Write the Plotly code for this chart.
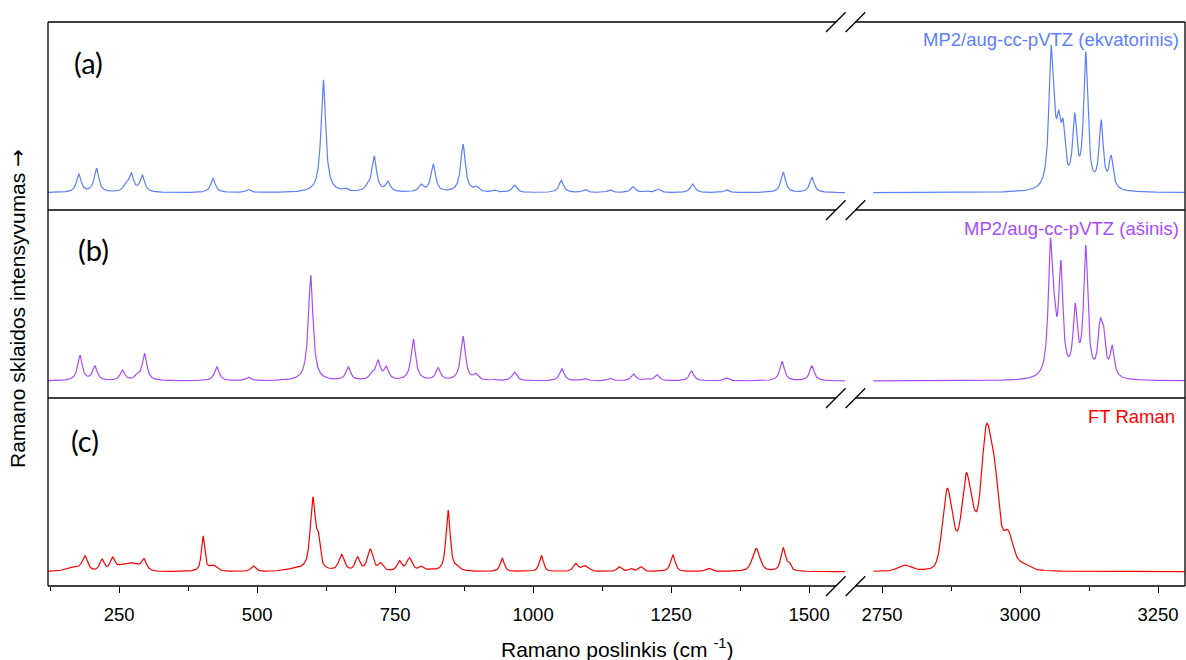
import numpy as np
import plotly.graph_objects as go
from plotly.subplots import make_subplots

# ---------------- data ----------------
# peak positions (cm-1) and peak heights (relative intensity, a.u.)
pos_a = [177, 209, 262, 272, 292, 420, 484, 620, 660, 700, 712, 737, 797, 819,
         873, 897, 930, 966, 1051, 1094, 1139, 1181, 1205, 1226, 1289, 1350,
         1453, 1505,
         3056, 3062, 3070, 3078, 3099, 3119, 3147, 3165]
int_a = [18.7, 24.7, 11, 20, 17.7, 14.3, 3.3, 113, 4.7, 10, 37, 11.7, 8.7, 28.7,
         48.7, 6.7, 2.7, 7.7, 12.3, 3.3, 3, 6, 2, 3.7, 8.7, 3,
         20.7, 15.3,
         147.7, 94, 83, 74, 80, 141, 73, 37.7]

pos_b = [179, 206, 256, 283, 296, 427, 484, 597, 665, 708, 719, 734, 783, 828,
         873, 896, 930, 966, 1052, 1094, 1139, 1182, 1205, 1224, 1287, 1350,
         1451, 1505,
         3055, 3062, 3074, 3100, 3119, 3145, 3151, 3167]
int_b = [26, 15.3, 11, 8, 27.7, 14.3, 4, 106, 14.3, 10, 21, 15, 42, 13.3,
         45, 7.7, 1.7, 9, 12.3, 2.7, 2.7, 7, 2.7, 6.3, 10, 3,
         19.7, 15.3,
         142.7, 86.7, 121, 78, 136, 62.7, 57, 36]

pos_c = [165, 188, 219, 238, 268, 295, 402, 420, 493, 570, 601, 611, 653, 682,
         705, 724, 758, 776, 797, 814, 846, 862, 944, 1015, 1077, 1094, 1156,
         1177, 1195, 1253, 1318, 1404, 1453, 1464,
         2791, 2868, 2885, 2902, 2915, 2939, 2955, 2978, 3005]
int_c = [5, 16, 12.7, 14.7, 9, 13.3, 36, 7, 5.7, 4, 75, 40, 17.3, 15,
         22.7, 9, 11, 14, 5.7, 3.5, 61.7, 7, 13.3, 16, 8.3, 6, 5,
         3.3, 5, 16.7, 3.3, 23.3, 24.3, 10,
         6.7, 83.3, 40.7, 98.3, 67, 147.3, 108, 42, 9]
hw_c = [15, 6, 5, 5, 22, 5, 3.5, 8, 5, 22, 5.5, 4, 6, 5,
        6, 5, 5, 6, 5, 5, 4.5, 6, 4.5, 4.5, 5, 8, 5,
        5, 5, 5, 6, 8, 5, 4,
        14, 10, 10, 9, 10, 11, 9, 11, 14]
eta_c = [0.3, 0.7, 0.7, 0.7, 0.0, 0.7, 0.8, 0.5, 0.7, 0.0, 0.8, 0.6, 0.7, 0.7,
         0.7, 0.6, 0.7, 0.7, 0.7, 0.7, 0.8, 0.6, 0.7, 0.7, 0.7, 0.5, 0.7,
         0.7, 0.7, 0.7, 0.7, 0.6, 0.7, 0.6,
         0.3, 0.25, 0.25, 0.25, 0.25, 0.25, 0.25, 0.3, 0.3]

hw_calc_low = 5.0      # HWHM of computed bands below 2000 cm-1
hw_calc_high = 4.5     # HWHM of computed bands in the CH region

labels = ["MP2/aug-cc-pVTZ (ekvatorinis)", "MP2/aug-cc-pVTZ (ašinis)", "FT Raman"]
panel_tags = ["(a)", "(b)", "(c)"]
colors = ["#5B7FFF", "#A64DFF", "#FF0000"]

tick_low = [250, 500, 750, 1000, 1250, 1500]
tick_high = [2750, 3000, 3250]
range_low = [121.2, 1565]
range_high = [2733.7, 3298.9]


# ---------------- build spectra from the peak tables ----------------
def profile(x, x0, w, eta):
    u = ((x - x0) / w) ** 2
    return eta / (1 + u) + (1 - eta) * np.exp(-np.log(2) * u)


def spectrum(pos, hts, widths, etas, grid):
    pos = np.asarray(pos, float)
    hts = np.asarray(hts, float)
    widths = np.asarray(widths, float)
    etas = np.asarray(etas, float)
    A = np.array([[profile(p, q, w, e) for q, w, e in zip(pos, widths, etas)] for p in pos])
    amp = hts.copy()
    num = A.T @ hts
    for _ in range(4000):
        amp *= num / (A.T @ (A @ amp) + 1e-12)
    y = np.zeros_like(grid)
    for q, w, e, a in zip(pos, widths, etas, amp):
        y += a * profile(grid, q, w, e)
    return y


def calc_widths(pos):
    return [hw_calc_low if p < 2000 else hw_calc_high for p in pos]


x_low = np.arange(range_low[0], range_low[1] + 0.01, 0.5)
x_high = np.arange(range_high[0] + 0.3, range_high[1], 0.5)
grid = np.concatenate([x_low, x_high])

spec_a = spectrum(pos_a, int_a, calc_widths(pos_a), [1.0] * len(pos_a), grid)
spec_b = spectrum(pos_b, int_b, calc_widths(pos_b), [1.0] * len(pos_b), grid)
spec_c = spectrum(pos_c, int_c, hw_c, eta_c, grid)
specs = [spec_a, spec_b, spec_c]
nlow = len(x_low)

# y ranges (baseline = 0)
yranges = [[-17.3, 170.7], [-17.0, 171.0], [-14.3, 173.7]]

# ---------------- figure ----------------
W, H = 1186, 660
ml, mr, mt, mb = 48, 1, 22, 74
pw, ph = W - ml - mr, H - mt - mb


def px(xpix):
    return (xpix - ml) / pw


def py(ypix):
    return (H - mb - ypix) / ph


fig = make_subplots(rows=3, cols=2, shared_xaxes=False, vertical_spacing=0,
                    horizontal_spacing=0.02)

dom_low = [0, px(845)]
dom_high = [px(873), 1]
ydoms = [[2 / 3, 1], [1 / 3, 2 / 3], [0, 1 / 3]]

for r in range(3):
    fig.add_trace(go.Scatter(x=x_low, y=specs[r][:nlow], mode="lines",
                             line=dict(color=colors[r], width=1.2), hoverinfo="skip"),
                  row=r + 1, col=1)
    fig.add_trace(go.Scatter(x=x_high, y=specs[r][nlow:], mode="lines",
                             line=dict(color=colors[r], width=1.2), hoverinfo="skip"),
                  row=r + 1, col=2)

tickfont = dict(family="Liberation Sans, Arial, sans-serif", size=18.5, color="black")
for r in range(3):
    for c in range(2):
        idx = r * 2 + c + 1
        xname = "xaxis" if idx == 1 else f"xaxis{idx}"
        yname = "yaxis" if idx == 1 else f"yaxis{idx}"
        bottom = (r == 2)
        xa = dict(domain=dom_low if c == 0 else dom_high,
                  range=range_low if c == 0 else range_high,
                  showgrid=False, zeroline=False, showline=False,
                  fixedrange=True)
        if bottom:
            xa.update(tickmode="array", tickvals=tick_low if c == 0 else tick_high,
                      ticks="outside", ticklen=6, tickwidth=1.2, tickcolor="black",
                      tickfont=tickfont, ticklabelstandoff=6,
                      minor=dict(dtick=125, tick0=0, ticks="outside", ticklen=3.5,
                                 tickwidth=1.2, tickcolor="black"))
        else:
            xa.update(showticklabels=False, ticks="")
        fig.layout[xname].update(xa)
        fig.layout[yname].update(domain=ydoms[r], range=yranges[r], visible=False,
                                 fixedrange=True)

shapes = []
line_style = dict(color="black", width=1.3)
# frame: horizontal lines with the axis-break gap
for ypix in [22, 210, 398, 586]:
    shapes.append(dict(type="line", xref="paper", yref="paper", x0=0, x1=px(836),
                       y0=py(ypix), y1=py(ypix), line=line_style))
    shapes.append(dict(type="line", xref="paper", yref="paper", x0=px(855.5), x1=1,
                       y0=py(ypix), y1=py(ypix), line=line_style))
    for xs in [826, 845.7]:
        shapes.append(dict(type="line", xref="paper", yref="paper",
                           x0=px(xs), y0=py(ypix + 10), x1=px(xs + 19.6), y1=py(ypix - 9.8),
                           line=dict(color="black", width=1.3)))
for xp in [0, 1]:
    shapes.append(dict(type="line", xref="paper", yref="paper", x0=xp, x1=xp,
                       y0=0, y1=1, line=line_style))
fig.update_layout(shapes=shapes)

ann = []
tag_pos = [(88, 63), (93, 249), (85, 440)]
for (xp_, yp_), t in zip(tag_pos, panel_tags):
    ann.append(dict(text=t, x=px(xp_), y=py(yp_), xref="paper", yref="paper",
                    xanchor="center", yanchor="middle", showarrow=False,
                    font=dict(family="Lato, Open Sans, sans-serif", size=29, color="black")))
lab_pos = [(1181, 40), (1181, 228.5), (1177, 416.5)]
for (xp_, yp_), t, col in zip(lab_pos, labels, colors):
    ann.append(dict(text=t, x=px(xp_), y=py(yp_), xref="paper", yref="paper",
                    xanchor="right", yanchor="middle", showarrow=False,
                    font=dict(family="Liberation Sans, Arial, sans-serif", size=18.5, color=col)))
ann.append(dict(text="Ramano poslinkis (cm <sup>-1</sup>)", x=px(617), y=py(648),
                xref="paper", yref="paper", xanchor="center", yanchor="middle",
                showarrow=False,
                font=dict(family="Liberation Sans, Arial, sans-serif", size=21, color="black")))
ann.append(dict(text="Ramano sklaidos intensyvumas <span style=\"font-family:'DejaVu Sans'\">→</span>",
                x=px(18), y=py(309),
                xref="paper", yref="paper", xanchor="center", yanchor="middle",
                textangle=-90, showarrow=False,
                font=dict(family="Liberation Sans, Arial, sans-serif", size=21, color="black")))
fig.update_layout(annotations=ann)

fig.update_layout(width=W, height=H, margin=dict(l=ml, r=mr, t=mt, b=mb),
                  paper_bgcolor="white", plot_bgcolor="white", showlegend=False)

fig.write_html("out.html", config={"displayModeBar": False},
               post_script="document.body.style.margin='0px';"
                           "document.body.style.overflow='hidden';")
